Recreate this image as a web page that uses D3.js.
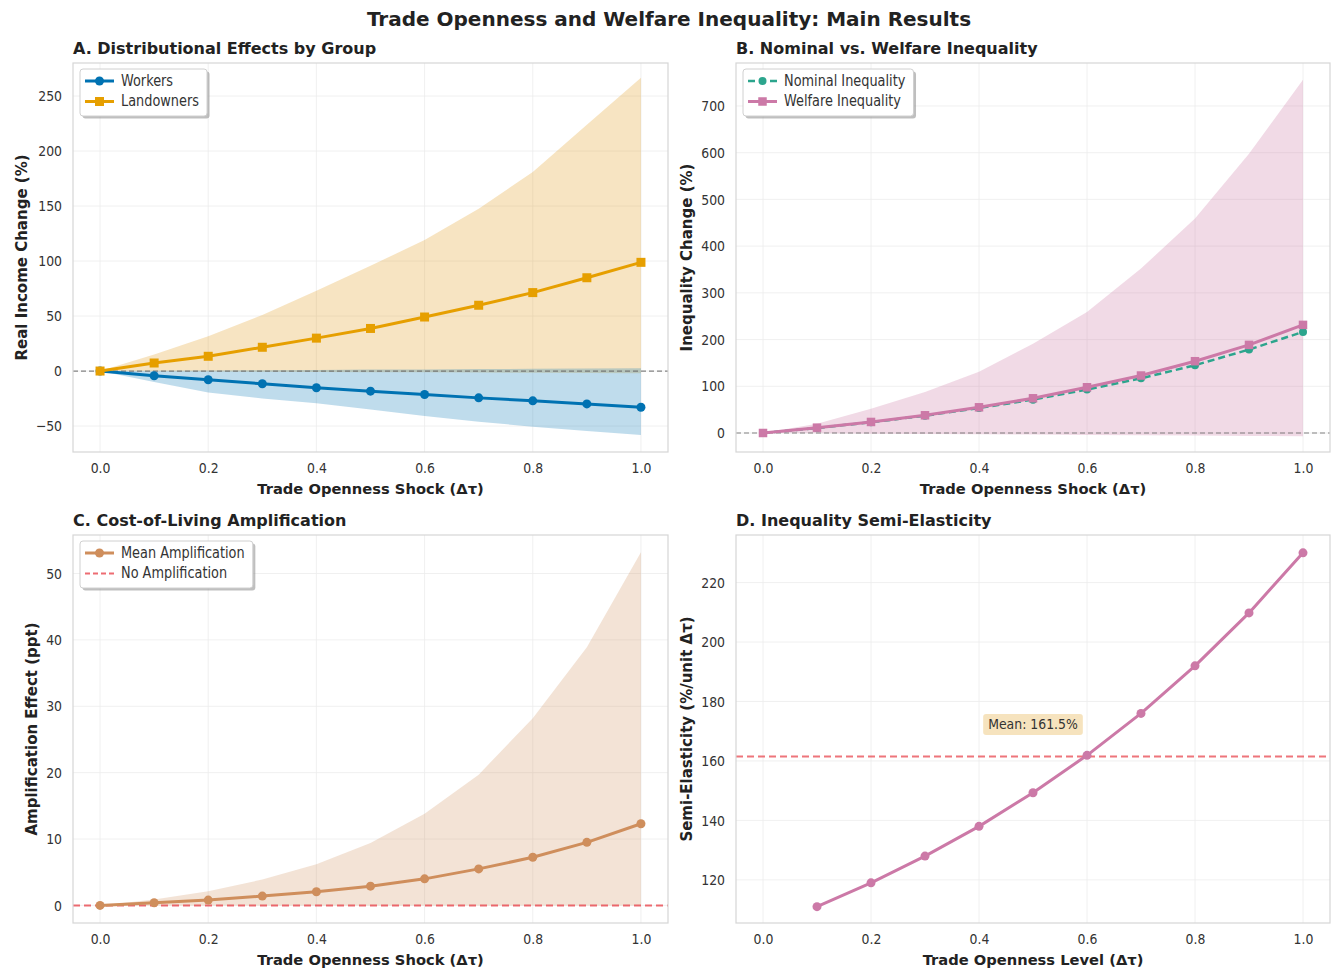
<!DOCTYPE html>
<html>
<head>
<meta charset="utf-8">
<script src="https://cdn.jsdelivr.net/npm/d3@7"></script>
<style>
  body { margin: 0; background: #fff; }
  text { font-family: "DejaVu Sans", sans-serif; }
</style>
</head>
<body>
<div id="chart"></div>
<script>
// ---- data ----
const shocks = [0, 0.1, 0.2, 0.3, 0.4, 0.5, 0.6, 0.7, 0.8, 0.9, 1.0];
const xTicks = [0, 0.2, 0.4, 0.6, 0.8, 1.0];

const workersMean = [0, -4.3, -7.9, -11.6, -15.2, -18.3, -21.3, -24.4, -27.1, -29.9, -32.9];
const workersLow = [0, -10, -19.5, -25, -29.3, -35, -40.9, -46, -50.6, -54.5, -58.2];
const workersHigh = [0, 0.3, 0.5, 0.8, 1, 1.3, 1.5, 1.8, 2, 2.3, 2.5];
const landMean = [0, 7.3, 13.4, 21.6, 29.9, 38.7, 49.1, 59.8, 71.3, 84.8, 98.8];
const landLow = [0, -0.2, -0.4, -0.6, -0.8, -1, -1.2, -1.4, -1.6, -1.8, -2];
const landHigh = [0, 15, 31.7, 50.9, 72.9, 95.7, 119, 147.6, 181, 223.8, 266.5];

const nominalIneq = [0, 10.7, 23, 37, 53.6, 71.4, 93, 117, 145, 178.6, 216.4];
const welfareIneq = [0, 11.4, 23.6, 37.9, 55, 74.3, 97.9, 123, 153.6, 188.6, 231.4];
const welfareLow = [0, -0.7, -1.4, -2.1, -2.8, -3.5, -4.2, -4.9, -5.6, -6.3, -7];
const welfareHigh = [0, 20, 52, 88, 131, 191, 259, 352, 459, 598, 756];

const ampMean = [0, 0.4, 0.8, 1.4, 2.05, 2.9, 4.0, 5.5, 7.25, 9.5, 12.3];
const ampLow = [0, 0, 0, 0, 0, 0, 0, 0, 0, 0, 0];
const ampHigh = [0, 0.9, 2.15, 3.9, 6.2, 9.4, 13.8, 19.7, 28.2, 38.9, 53.2];

const levels = [0.1, 0.2, 0.3, 0.4, 0.5, 0.6, 0.7, 0.8, 0.9, 1.0];
const semiElasticity = [111, 119, 128, 138, 149.3, 161.9, 176, 192, 209.8, 230];

const width = 1338;
const height = 971;
const SQ = 0.86; // regular-weight text in the reference is narrow

const svg = d3.select('#chart').append('svg')
    .attr('width', width)
    .attr('height', height);
svg.append('rect').attr('width', width).attr('height', height).attr('fill', '#fff');

function squeeze(sel) {
    sel.each(function () {
        const t = d3.select(this);
        const x = +t.attr('x') || 0, y = +t.attr('y') || 0;
        t.attr('transform', `translate(${x},${y}) scale(${SQ},1) translate(${-x},${-y})`);
    });
}

svg.append('text')
    .attr('x', width / 2).attr('y', 26)
    .attr('text-anchor', 'middle')
    .attr('font-size', 20).attr('font-weight', 'bold').attr('fill', '#222')
    .text('Trade Openness and Welfare Inequality: Main Results');

let clipId = 0;
function panel(box, yDomain, yTicks, title, xLabel, yLabel, yLabelX) {
    const x = d3.scaleLinear().domain([-0.05, 1.05]).range([box.l, box.r]);
    const y = d3.scaleLinear().domain(yDomain).range([box.b, box.t]);
    const g = svg.append('g');

    g.append('rect')
        .attr('x', box.l).attr('y', box.t)
        .attr('width', box.r - box.l).attr('height', box.b - box.t)
        .attr('fill', '#fff');

    g.append('g').selectAll('line').data(xTicks).join('line')
        .attr('x1', d => x(d)).attr('x2', d => x(d))
        .attr('y1', box.t).attr('y2', box.b)
        .attr('stroke', '#ececec').attr('stroke-width', 0.8);
    g.append('g').selectAll('line').data(yTicks).join('line')
        .attr('x1', box.l).attr('x2', box.r)
        .attr('y1', d => y(d)).attr('y2', d => y(d))
        .attr('stroke', '#ececec').attr('stroke-width', 0.8);

    const xa = g.append('g')
        .attr('transform', `translate(0,${box.b})`)
        .call(d3.axisBottom(x).tickValues(xTicks).tickFormat(d3.format('.1f')).tickSize(0).tickPadding(11));
    const ya = g.append('g')
        .attr('transform', `translate(${box.l},0)`)
        .call(d3.axisLeft(y).tickValues(yTicks).tickSize(0).tickPadding(11));
    [xa, ya].forEach(a => {
        a.select('.domain').remove();
        a.selectAll('text')
            .attr('font-size', 14.5).attr('fill', '#333')
            .attr('font-family', '"DejaVu Sans", sans-serif')
            .call(squeeze);
    });

    g.append('text')
        .attr('x', box.l).attr('y', box.t - 9)
        .attr('font-size', 16).attr('font-weight', 'bold').attr('fill', '#222')
        .text(title);
    g.append('text')
        .attr('x', (box.l + box.r) / 2).attr('y', box.b + 42)
        .attr('text-anchor', 'middle')
        .attr('font-size', 14.7).attr('font-weight', 'bold').attr('fill', '#222')
        .text(xLabel);
    g.append('text')
        .attr('text-anchor', 'middle')
        .attr('transform', `translate(${yLabelX},${(box.t + box.b) / 2}) rotate(-90)`)
        .attr('font-size', 15).attr('font-weight', 'bold').attr('fill', '#222')
        .text(yLabel);

    const id = 'clip' + (clipId++);
    g.append('clipPath').attr('id', id).append('rect')
        .attr('x', box.l).attr('y', box.t)
        .attr('width', box.r - box.l).attr('height', box.b - box.t);
    const plot = g.append('g').attr('clip-path', `url(#${id})`);

    // frame on top, drawn after the marks
    const frame = () => g.append('rect')
        .attr('x', box.l).attr('y', box.t)
        .attr('width', box.r - box.l).attr('height', box.b - box.t)
        .attr('fill', 'none').attr('stroke', '#d6d6d6').attr('stroke-width', 1.2);

    return { g, plot, x, y, box, frame };
}

function band(p, xsArr, low, high, color, op) {
    const area = d3.area().x((d, i) => p.x(xsArr[i])).y0((d, i) => p.y(low[i])).y1((d, i) => p.y(high[i]));
    p.plot.append('path').datum(xsArr).attr('d', area)
        .attr('fill', color).attr('fill-opacity', op);
}

function hline(p, v, color, w, dash, op) {
    p.plot.append('line')
        .attr('x1', p.box.l).attr('x2', p.box.r)
        .attr('y1', p.y(v)).attr('y2', p.y(v))
        .attr('stroke', color).attr('stroke-width', w)
        .attr('stroke-dasharray', dash).attr('stroke-opacity', op);
}

function series(p, xsArr, vals, color, w, marker, size, dash) {
    const line = d3.line().x((d, i) => p.x(xsArr[i])).y(d => p.y(d));
    p.plot.append('path').datum(vals).attr('d', line)
        .attr('fill', 'none').attr('stroke', color).attr('stroke-width', w)
        .attr('stroke-linejoin', 'round')
        .attr('stroke-dasharray', dash || null);
    if (marker === 'circle') {
        p.plot.append('g').selectAll('circle').data(vals).join('circle')
            .attr('cx', (d, i) => p.x(xsArr[i])).attr('cy', d => p.y(d))
            .attr('r', size).attr('fill', color);
    } else {
        p.plot.append('g').selectAll('rect').data(vals).join('rect')
            .attr('x', (d, i) => p.x(xsArr[i]) - size / 2).attr('y', d => p.y(d) - size / 2)
            .attr('width', size).attr('height', size).attr('fill', color);
    }
}

function legend(p, items) {
    const lx = p.box.l + 7, ly = p.box.t + 6;
    const lg = p.g.append('g');
    const shadow = lg.append('rect');
    const bg = lg.append('rect');
    let maxW = 0;
    items.forEach((it, i) => {
        const cy = ly + 12 + i * 20.5;
        lg.append('line')
            .attr('x1', lx + 5).attr('x2', lx + 34)
            .attr('y1', cy).attr('y2', cy)
            .attr('stroke', it.color).attr('stroke-width', it.w)
            .attr('stroke-dasharray', it.dash || null)
            .attr('stroke-opacity', it.op || 1);
        if (it.marker === 'circle') {
            lg.append('circle').attr('cx', lx + 19.5).attr('cy', cy).attr('r', it.size).attr('fill', it.color);
        } else if (it.marker === 'square') {
            lg.append('rect').attr('x', lx + 19.5 - it.size / 2).attr('y', cy - it.size / 2)
                .attr('width', it.size).attr('height', it.size).attr('fill', it.color);
        }
        const t = lg.append('text')
            .attr('x', lx + 41).attr('y', cy + 5)
            .attr('font-size', 15).attr('fill', '#333')
            .text(it.label);
        maxW = Math.max(maxW, t.node().getComputedTextLength() * SQ);
        t.call(squeeze);
    });
    const bw = 41 + maxW + 8, bh = items.length * 20.5 + 6;
    shadow.attr('x', lx + 2.5).attr('y', ly + 2.5).attr('width', bw).attr('height', bh)
        .attr('rx', 3).attr('fill', '#8a8a8a').attr('fill-opacity', 0.55);
    bg.attr('x', lx).attr('y', ly).attr('width', bw).attr('height', bh)
        .attr('rx', 3).attr('fill', '#fff').attr('stroke', '#d0d0d0').attr('stroke-width', 1);
}

const blue = '#0072B2', orange = '#E69F00', green = '#2ca58d', pink = '#CC79A7', brown = '#cf8e5c', red = '#e8474f';

// ---- A ----
const pA = panel({ l: 73, r: 668, t: 63, b: 452 }, [-73.6, 280], [-50, 0, 50, 100, 150, 200, 250],
    'A. Distributional Effects by Group', 'Trade Openness Shock (Δτ)', 'Real Income Change (%)', 27);
band(pA, shocks, landLow, landHigh, '#e39a1e', 0.27);
band(pA, shocks, workersLow, workersHigh, blue, 0.25);
hline(pA, 0, '#666', 1.2, '5,3', 0.8);
series(pA, shocks, workersMean, blue, 3, 'circle', 4.5);
series(pA, shocks, landMean, orange, 3, 'square', 9);
pA.frame();
legend(pA, [
    { label: 'Workers', color: blue, w: 3, marker: 'circle', size: 4.5 },
    { label: 'Landowners', color: orange, w: 3, marker: 'square', size: 9 }
]);

// ---- B ----
const pB = panel({ l: 736, r: 1330, t: 63, b: 452 }, [-40.7, 792], [0, 100, 200, 300, 400, 500, 600, 700],
    'B. Nominal vs. Welfare Inequality', 'Trade Openness Shock (Δτ)', 'Inequality Change (%)', 692);
band(pB, shocks, welfareLow, welfareHigh, pink, 0.28);
hline(pB, 0, '#666', 1.2, '5,3', 0.8);
series(pB, shocks, nominalIneq, green, 2.5, 'circle', 4, '7,4');
series(pB, shocks, welfareIneq, pink, 3, 'square', 8.5);
pB.frame();
legend(pB, [
    { label: 'Nominal Inequality', color: green, w: 2.5, marker: 'circle', size: 4, dash: '7,4' },
    { label: 'Welfare Inequality', color: pink, w: 3, marker: 'square', size: 8.5 }
]);

// ---- C ----
const pC = panel({ l: 73, r: 668, t: 535, b: 923 }, [-2.65, 55.8], [0, 10, 20, 30, 40, 50],
    'C. Cost-of-Living Amplification', 'Trade Openness Shock (Δτ)', 'Amplification Effect (ppt)', 37);
band(pC, shocks, ampLow, ampHigh, brown, 0.25);
hline(pC, 0, red, 2, '7,4', 0.8);
series(pC, shocks, ampMean, brown, 3, 'circle', 4.5);
pC.frame();
legend(pC, [
    { label: 'Mean Amplification', color: brown, w: 3, marker: 'circle', size: 4.5 },
    { label: 'No Amplification', color: red, w: 2, dash: '5,3', op: 0.8 }
]);

// ---- D ----
const pD = panel({ l: 736, r: 1330, t: 535, b: 923 }, [105.5, 236], [120, 140, 160, 180, 200, 220],
    'D. Inequality Semi-Elasticity', 'Trade Openness Level (Δτ)', 'Semi-Elasticity (%/unit Δτ)', 692);
const meanSemi = d3.mean(semiElasticity);
hline(pD, meanSemi, red, 2, '7,4', 0.75);
series(pD, levels, semiElasticity, pink, 3, 'circle', 4.5);
pD.frame();
const ann = pD.g.append('g');
const annBg = ann.append('rect');
const annText = ann.append('text')
    .attr('x', pD.x(0.5)).attr('y', pD.y(meanSemi + 10.8) + 5)
    .attr('text-anchor', 'middle')
    .attr('font-size', 14.5).attr('fill', '#333')
    .text(`Mean: ${meanSemi.toFixed(1)}%`);
const annW = annText.node().getComputedTextLength() * SQ;
annText.call(squeeze);
annBg.attr('x', pD.x(0.5) - annW / 2 - 5).attr('y', pD.y(meanSemi + 10.8) - 10.5)
    .attr('width', annW + 10).attr('height', 21).attr('rx', 3)
    .attr('fill', '#f5deb3').attr('fill-opacity', 0.85);
</script>
</body>
</html>
